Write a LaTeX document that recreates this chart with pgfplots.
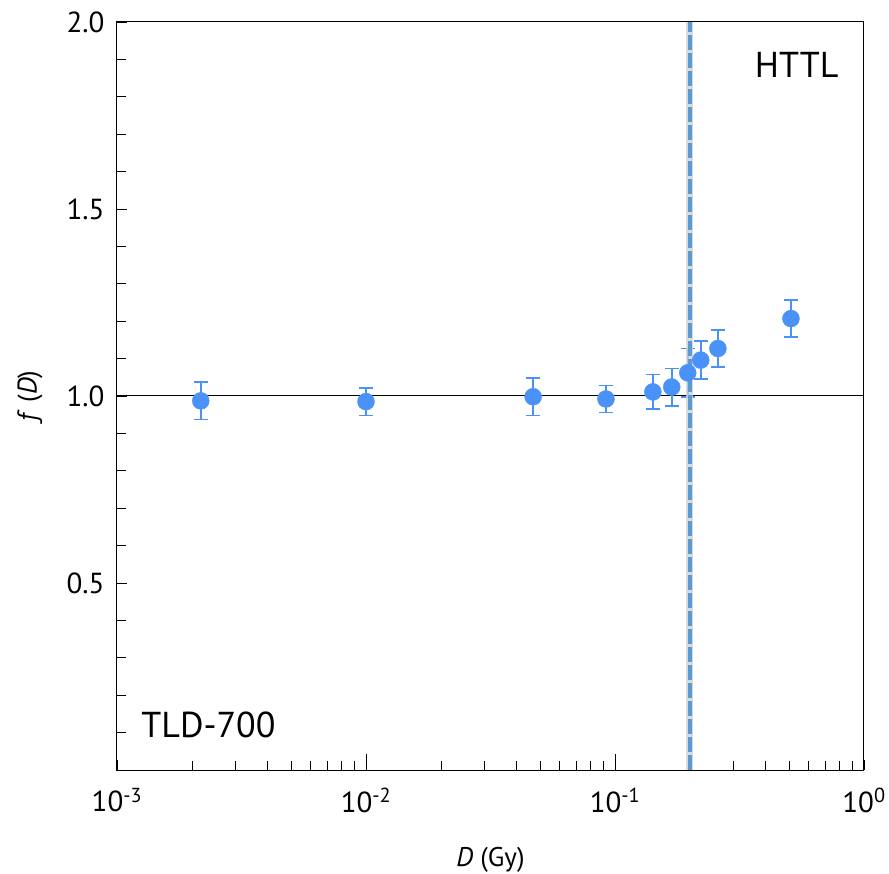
\documentclass[border=0pt]{standalone}
\usepackage{pgfplots}
\pgfplotsset{compat=1.18}
\usepackage{fontspec}
\setmainfont{PT Sans}
\definecolor{ptblue}{HTML}{4A92F8}
\definecolor{cutblue}{HTML}{5B9BD5}
\begin{document}
\begin{tikzpicture}[x=1pt,y=1pt]
\begin{axis}[
  scale only axis,
  width=747pt, height=748pt,
  xmode=log, xmin=1e-3, xmax=1, ymin=0, ymax=2,
  xtick={0.001,0.01,0.1,1},
  xticklabels={10\textsuperscript{-3},10\textsuperscript{-2},10\textsuperscript{-1},10\textsuperscript{0}},
  extra x ticks={0.01,0.1},
  extra x tick labels={},
  extra x tick style={major tick length=16pt},
  ytick={0,0.5,1,1.5,2},
  yticklabels={,0.5,1.0,1.5,2.0},
  minor y tick num=4,
  tick align=inside, xtick pos=bottom, ytick pos=left,
  major tick length=10pt, minor tick length=9pt,
  tick style={black, line width=0.8pt},
  axis line style={black, line width=1pt},
  ticklabel style={font=\fontsize{29}{29}\selectfont},
  xticklabel style={yshift=-15pt},
  yticklabel style={xshift=-9pt},
  /pgf/number format/assume math mode=true,
  xlabel={\textit{D} (Gy)},
  ylabel={\textit{f} (\textit{D})},
  label style={font=\fontsize{27}{27}\selectfont},
  xlabel style={at={(axis description cs:0.5,-0.120)}, anchor=center},
  ylabel style={at={(axis description cs:-0.1165,0.5)}, anchor=center},
  clip=false,
]
% reference line at f(D) = 1
\addplot[black, line width=1pt] coordinates {(1e-3,1) (1,1)};
% measured response with uncertainties
\addplot[only marks, mark=*, mark size=8.5pt, color=ptblue,
  mark options={fill=ptblue, draw=none},
  error bars/.cd, y dir=both, y explicit,
  error bar style={line width=1.6pt, color=ptblue},
  error mark options={rotate=90, mark size=7pt, line width=1.6pt, color=ptblue}]
  coordinates {
  (0.00217,0.987) +- (0,0.050)
  (0.0100,0.985) +- (0,0.037)
  (0.0469,0.998) +- (0,0.050)
  (0.0920,0.992) +- (0,0.036)
  (0.1420,1.011) +- (0,0.046)
  (0.1690,1.024) +- (0,0.050)
  (0.1960,1.062) +- (0,0.065)
  (0.2210,1.096) +- (0,0.051)
  (0.2590,1.127) +- (0,0.050)
  (0.5090,1.207) +- (0,0.049)
  };
% 0.2 Gy threshold
\addplot[gray!35, line width=7pt, opacity=0.8] coordinates {(0.2,0) (0.2,2)};
\addplot[cutblue, line width=4.5pt, dash pattern=on 15pt off 3pt] coordinates {(0.2,0) (0.2,2)};
\node[anchor=east, font=\fontsize{36}{36}\selectfont] at (rel axis cs:0.9705,0.943) {HTTL};
\node[anchor=west, font=\fontsize{36}{36}\selectfont] at (rel axis cs:0.028,0.060) {TLD-700};
\end{axis}
\path (current axis.south west) ++(-117pt,-103pt) coordinate (bl);
\path (current axis.north east) ++(25pt,22pt) coordinate (tr);
\pgfresetboundingbox
\path[use as bounding box] (bl) rectangle (tr);
\end{tikzpicture}
\end{document}
